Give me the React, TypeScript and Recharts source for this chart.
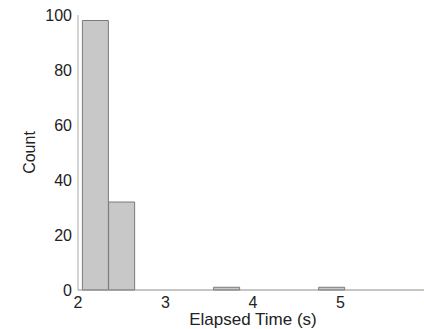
import React from 'react';
import { ComposedChart, Bar, XAxis, YAxis } from 'recharts';

// histogram bins (centre of each 0.3 s bin) and counts
const binCenters = [2.2, 2.5, 2.8, 3.1, 3.4, 3.7, 4.0, 4.3, 4.6, 4.9];
const counts = [98, 32, 0, 0, 0, 1, 0, 0, 0, 1];

const xTicks = [2, 3, 4, 5, 6];
const yTicks = [0, 20, 40, 60, 80, 100];

const FONT = '"Liberation Sans", Arial, Helvetica, sans-serif';

const chartData = binCenters.map((t, i) => ({ t, count: counts[i] }));

export default function App() {
  return (
    <div style={{ position: 'absolute', left: 0, top: 0, width: 424, height: 329, overflow: 'hidden', background: '#fff' }}>
      <ComposedChart
        width={440}
        height={329}
        data={chartData}
        margin={{ top: 15, right: 12, left: 0, bottom: 0 }}
        barCategoryGap={0}
        barGap={0}
        style={{ fontFamily: FONT }}
      >
        <XAxis
          dataKey="t"
          type="number"
          domain={[2, 6]}
          ticks={xTicks}
          allowDataOverflow
          height={39}
          tickLine={false}
          tickMargin={1}
          stroke="#8c8c8c"
          tick={{ fill: '#222', fontSize: 16, fontFamily: FONT }}
          label={{ value: 'Elapsed Time (s)', position: 'insideBottom', offset: 4, fill: '#222', fontSize: 17, fontFamily: FONT }}
        />
        <YAxis
          type="number"
          domain={[0, 100]}
          ticks={yTicks}
          width={78}
          tickLine={false}
          tickMargin={0}
          stroke="#a8a8a8"
          tick={{ fill: '#222', fontSize: 16, fontFamily: FONT }}
          label={{ value: 'Count', angle: -90, position: 'insideLeft', offset: 29, textAnchor: 'middle', fill: '#222', fontSize: 16, fontFamily: FONT }}
        />
        <Bar dataKey="count" fill="#c8c8c8" stroke="#7a7a7a" strokeWidth={1} isAnimationActive={false} />
      </ComposedChart>
    </div>
  );
}
